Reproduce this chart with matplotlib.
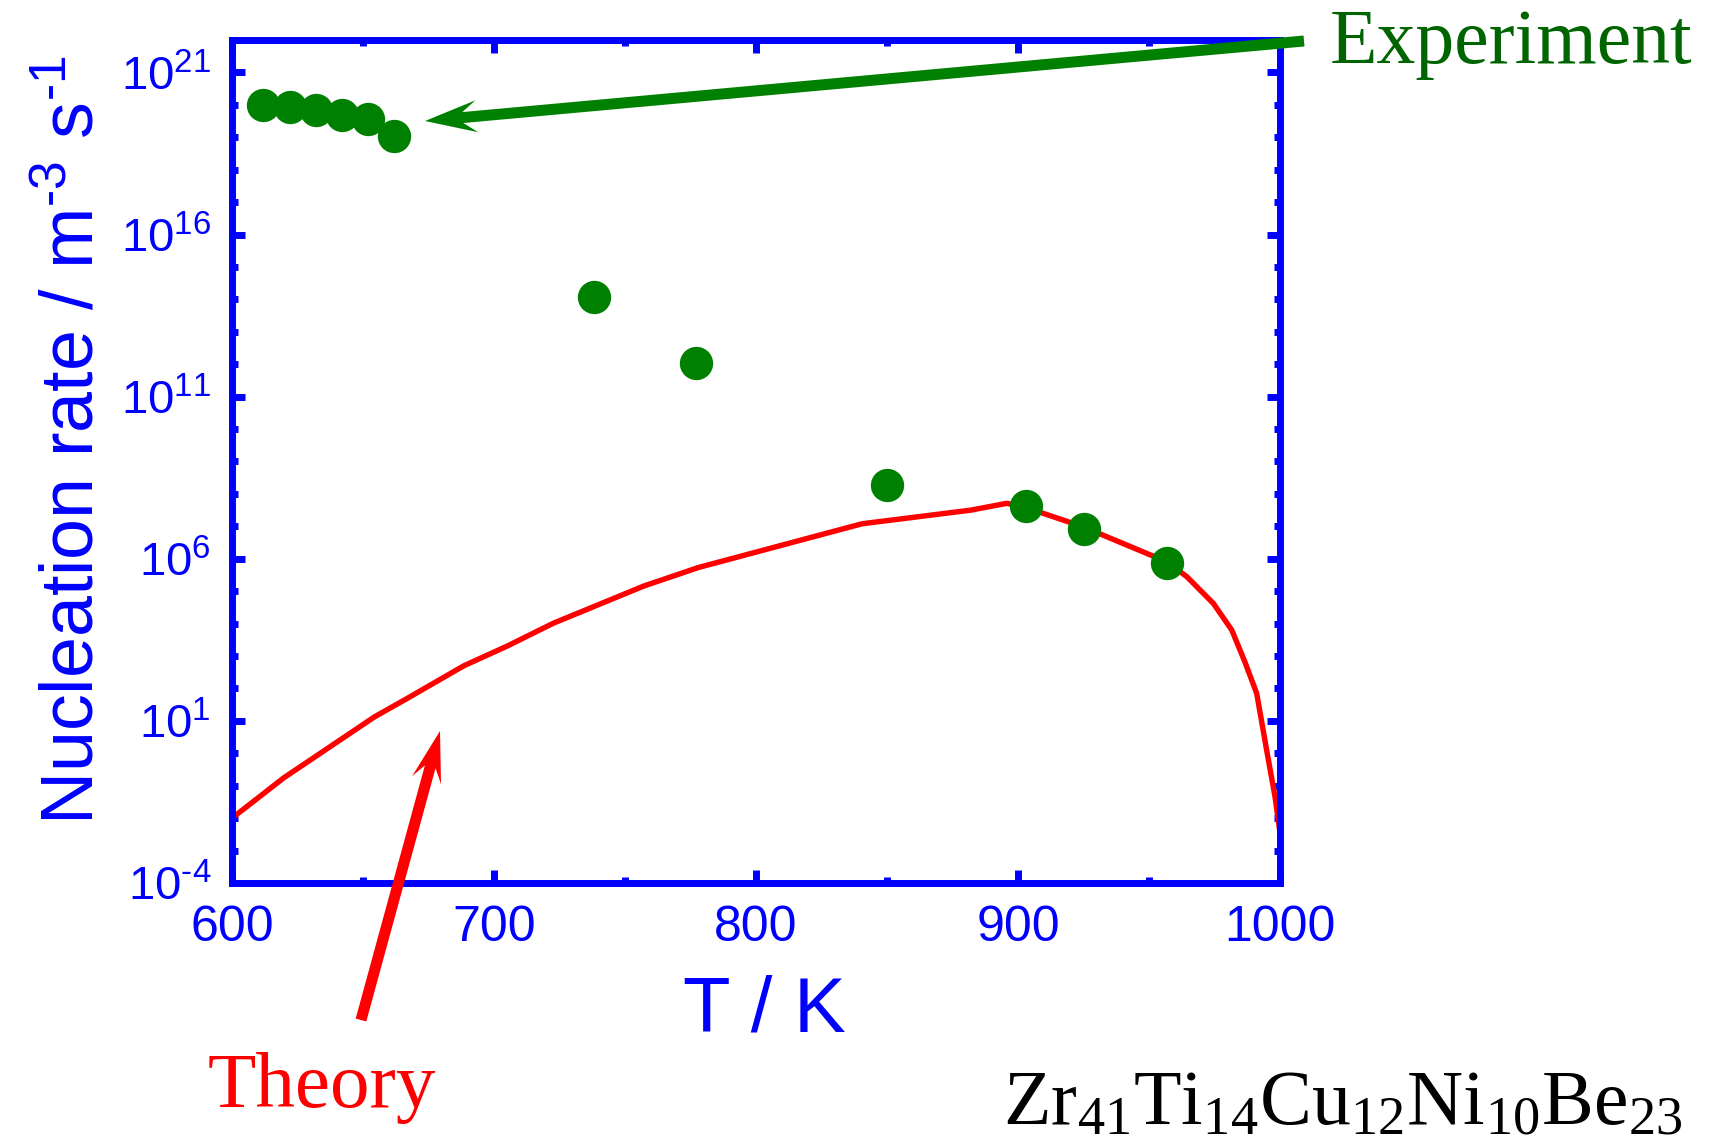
import numpy as np
import matplotlib
matplotlib.use('Agg')
import matplotlib.pyplot as plt
from matplotlib.patches import Polygon

# experiment points (T in K, log10 of nucleation rate)
exp_T = [612, 622, 632, 642, 652, 662, 738, 777, 850, 903, 925, 957]
exp_logJ = [20.0, 19.93, 19.84, 19.69, 19.56, 19.04, 14.07, 12.04, 8.29, 7.63, 6.92, 5.86]

# theory curve
theory_T = [600, 619.7, 654.3, 666.8, 688.5, 705.1, 722.6, 757.2, 778.0, 840.5, 882.0,
            895.7, 902.7, 924.7, 956.7, 964.4, 974.6, 981.6, 986.6, 991.1, 994.9, 998.1, 1000]
theory_logJ = [-2.0, -0.76, 1.12, 1.69, 2.70, 3.31, 4.01, 5.16, 5.73, 7.08, 7.50,
               7.71, 7.59, 6.99, 5.91, 5.45, 4.62, 3.80, 2.82, 1.85, 0.10, -1.34, -2.45]

ytick_exp = [-4, 1, 6, 11, 16, 21]
xticks = [600, 700, 800, 900, 1000]

BLUE = '#0000ff'
GREEN = '#008000'
RED = '#ff0000'
HY = '\u2010'  # short hyphen instead of the wide math minus

plt.rcParams['font.family'] = ['Liberation Sans', 'DejaVu Sans']
plt.rcParams['mathtext.fontset'] = 'custom'
plt.rcParams['mathtext.default'] = 'regular'

W, H = 1711, 1146
fig = plt.figure(figsize=(W / 100, H / 100), dpi=100)
ax = fig.add_axes([232 / W, 1 - 883 / H, (1280 - 232) / W, (883 - 40) / H])

ax.plot(theory_T, 10 ** np.array(theory_logJ), color=RED, lw=3.9, zorder=2,
        solid_joinstyle='round')
ax.plot(exp_T, 10 ** np.array(exp_logJ), 'o', color=GREEN, ms=24, mec='none', zorder=3)

ax.set_yscale('log')
ax.set_xlim(600, 1000)
ax.set_ylim(1e-4, 1e22)

ax.set_xticks(xticks)
ax.set_xticklabels([str(t) for t in xticks])
ax.set_xticks([650, 750, 850, 950], minor=True)
ax.set_yticks([10.0 ** e for e in ytick_exp])
ax.set_yticklabels([r'$10^{%s}$' % str(e).replace('-', HY) for e in ytick_exp])
ax.set_yticks([10.0 ** e for e in range(-4, 23) if e not in ytick_exp], minor=True)
ax.yaxis.set_minor_formatter(plt.NullFormatter())

for sp in ax.spines.values():
    sp.set_color(BLUE)
    sp.set_linewidth(5)

ax.tick_params(which='both', direction='in', top=True, right=True, color=BLUE, width=5)
ax.tick_params(which='major', length=9.5)
ax.tick_params(which='minor', length=4)
ax.tick_params(axis='x', which='major', labelsize=36, labelcolor=BLUE, pad=16)
ax.tick_params(axis='y', which='major', labelsize=34, labelcolor=BLUE, pad=15)

# axis labels
fig.text(764 / W, 1 - 1031 / H, 'T / K', color=BLUE, fontsize=56,
         ha='center', va='baseline')
fig.text(93 / W, 1 - 440 / H, 'Nucleation rate / m$^{%s3}$ s$^{%s1}$' % (HY, HY),
         color=BLUE, fontsize=53, rotation=90, rotation_mode='anchor',
         ha='center', va='baseline')

# annotations
serif = ['Liberation Serif', 'DejaVu Serif']
fig.text(1330 / W, 1 - 63 / H, 'Experiment', color='#006400', fontsize=56,
         family=serif, ha='left', va='baseline')
fig.text(208 / W, 1 - 1107 / H, 'Theory', color=RED, fontsize=57,
         family=serif, ha='left', va='baseline')
fig.text(1003 / W, 1 - 1124 / H, r'$Zr_{41}Ti_{14}Cu_{12}Ni_{10}Be_{23}$', color='black',
         fontsize=56, family=serif, ha='left', va='baseline')


def arrow(tail, tip, color, w=11, head_len=52, head_half=16, notch=38):
    # tail / tip in image pixels (origin top-left)
    tail = np.array([tail[0], H - tail[1]], float)
    tip = np.array([tip[0], H - tip[1]], float)
    d = tail - tip
    L = np.hypot(*d)
    u = d / L
    n = np.array([-u[1], u[0]])
    pts = [tip,
           tip + u * head_len + n * head_half,
           tip + u * notch + n * w / 2,
           tail + n * w / 2,
           tail - n * w / 2,
           tip + u * notch - n * w / 2,
           tip + u * head_len - n * head_half]
    pts = np.array(pts) / [W, H]
    fig.add_artist(Polygon(pts, closed=True, transform=fig.transFigure,
                           facecolor=color, edgecolor='none', zorder=5))


arrow((1304, 41), (425, 121), GREEN)
arrow((361, 1020), (440, 731), RED, head_half=15, head_len=51, notch=37)

fig.savefig('out.png', dpi=100)
